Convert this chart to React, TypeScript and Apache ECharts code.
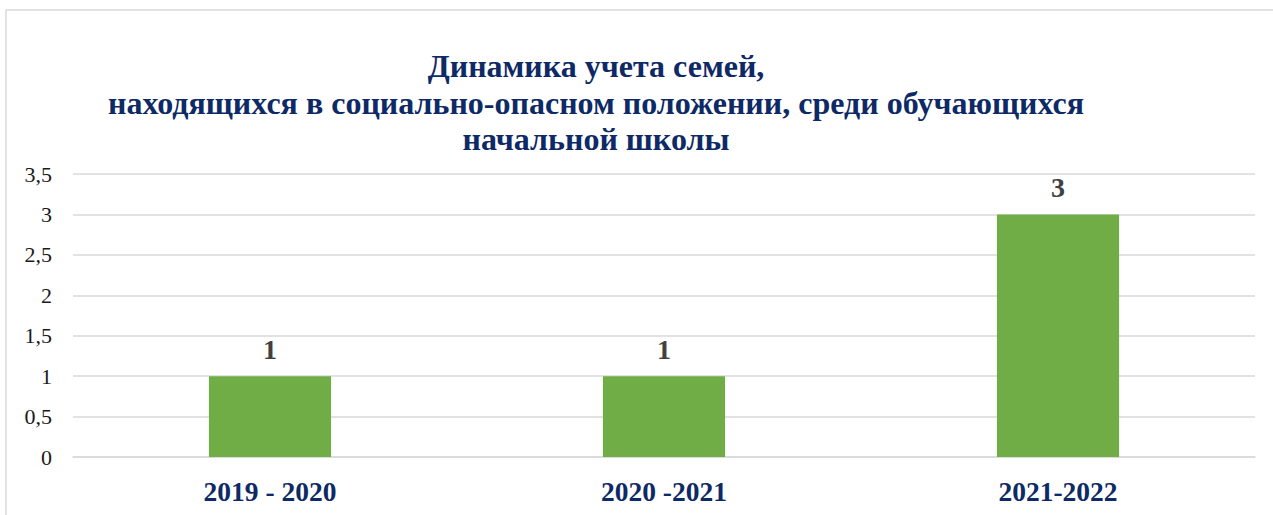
import React, { useEffect, useRef } from "react";
import * as echarts from "echarts";

const categories = ["2019 - 2020", "2020 -2021", "2021-2022"];
const values = [1, 1, 3];
const titleText =
  "Динамика учета семей,\nнаходящихся в социально-опасном положении, среди обучающихся\nначальной школы";

const SERIF = "'Liberation Serif', 'Times New Roman', 'DejaVu Serif', serif";

export default function App() {
  const ref = useRef<HTMLDivElement>(null);
  useEffect(() => {
    if (!ref.current) return;
    const chart = echarts.init(ref.current, null, { renderer: "svg" });
    chart.setOption({
      animation: false,
      backgroundColor: "#ffffff",
      graphic: [
        {
          type: "rect",
          shape: { x: 6, y: 10, width: 1400, height: 700 },
          style: { fill: "none", stroke: "#d9d9d9", lineWidth: 1.5 },
          silent: true,
        },
      ],
      title: {
        text: titleText,
        left: 591,
        top: 43,
        textAlign: "center",
        textStyle: {
          fontFamily: SERIF,
          fontWeight: "bold",
          fontSize: 32,
          lineHeight: 36.5,
          color: "#0e2a66",
        },
      },
      grid: { left: 73, right: 18, top: 174, bottom: 58, containLabel: false },
      xAxis: {
        type: "category",
        data: categories,
        axisLine: { show: true, lineStyle: { color: "#d9d9d9", width: 1.5 } },
        axisTick: { show: false },
        axisLabel: {
          margin: 20,
          fontFamily: SERIF,
          fontWeight: "bold",
          fontSize: 27.5,
          color: "#0e2a66",
        },
      },
      yAxis: {
        type: "value",
        min: 0,
        max: 3.5,
        interval: 0.5,
        axisLine: { show: false },
        axisTick: { show: false },
        splitLine: { lineStyle: { color: "#d9d9d9", width: 1.5 } },
        axisLabel: {
          margin: 21,
          fontFamily: SERIF,
          fontSize: 22,
          color: "#1a1a1a",
          formatter: (v: number) => String(v).replace(".", ","),
        },
      },
      series: [
        {
          type: "bar",
          data: values,
          barWidth: "31%",
          itemStyle: { color: "#70ad47" },
          label: {
            show: true,
            position: "top",
            distance: 13,
            fontFamily: SERIF,
            fontWeight: "bold",
            fontSize: 28,
            color: "#404040",
          },
        },
      ],
    });
    return () => chart.dispose();
  }, []);
  return (
    <div
      ref={ref}
      style={{ position: "fixed", left: 0, top: 0, width: 1273, height: 515 }}
    />
  );
}
